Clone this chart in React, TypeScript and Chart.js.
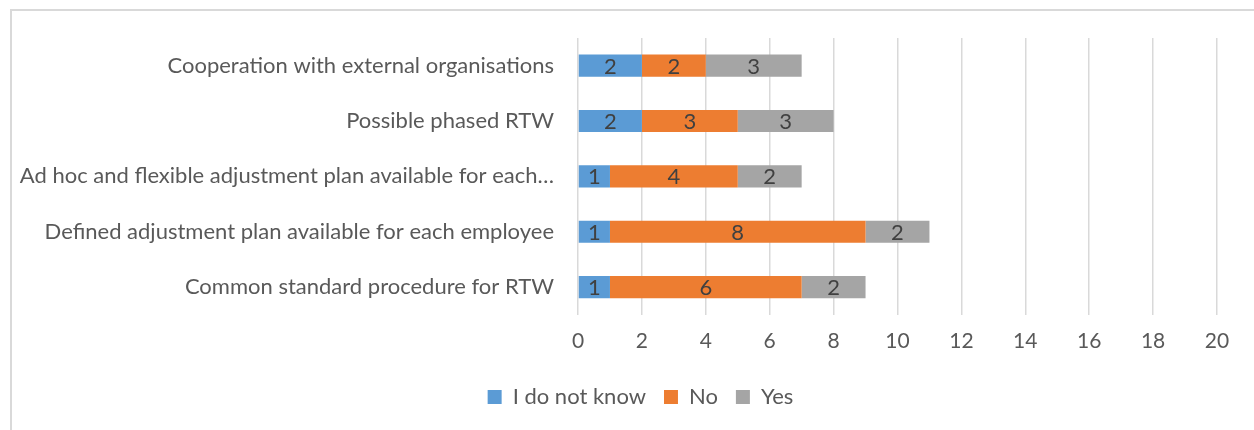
import React, { useEffect, useRef } from "react";
import { Chart, registerables } from "chart.js";

Chart.register(...registerables);

const categories = [
  "Cooperation with external organisations",
  "Possible phased RTW",
  "Ad hoc and flexible adjustment plan available for each…",
  "Defined adjustment plan available for each employee",
  "Common standard procedure for RTW",
];
const dontKnow = [2, 2, 1, 1, 1];
const no = [2, 3, 4, 8, 6];
const yes = [3, 3, 2, 2, 2];
const seriesNames = ["I do not know", "No", "Yes"];
const seriesColors = ["#5B9BD5", "#ED7D31", "#A5A5A5"];
const xMax = 20;
const xStep = 2;

const FONT = "Lato, 'Open Sans', sans-serif";

const valueLabels = {
  id: "valueLabels",
  afterDatasetsDraw(chart: any) {
    const ctx = chart.ctx;
    ctx.save();
    ctx.font = `22px ${FONT}`;
    ctx.fillStyle = "#404040";
    ctx.textAlign = "center";
    ctx.textBaseline = "middle";
    chart.data.datasets.forEach((ds: any, i: number) => {
      const meta = chart.getDatasetMeta(i);
      meta.data.forEach((bar: any, j: number) => {
        const v = ds.data[j];
        if (!v) return;
        const cx = (bar.x + bar.base) / 2;
        ctx.fillText(String(v), cx, bar.y + 1);
      });
    });
    ctx.restore();
  },
};

// shift legend so it is centred like the original (centre ≈ 640px)
const legendShift = {
  id: "legendShift",
  afterLayout(chart: any) {
    const lg = chart.legend;
    if (lg) {
      lg.left += 32;
      lg.right += 32;
    }
  },
};

export default function App() {
  const ref = useRef<HTMLCanvasElement>(null);
  useEffect(() => {
    const chart = new Chart(ref.current!, {
      type: "bar",
      data: {
        labels: categories,
        datasets: [dontKnow, no, yes].map((d, i) => ({
          label: seriesNames[i],
          data: d,
          backgroundColor: seriesColors[i],
          borderWidth: 0,
          barPercentage: 0.8,
          categoryPercentage: 0.5,
        })),
      },
      options: {
        indexAxis: "y",
        responsive: false,
        animation: false,
        layout: { padding: { top: 38, right: 37, left: 0, bottom: 12 } },
        plugins: {
          tooltip: { enabled: false },
          legend: {
            position: "bottom",
            labels: {
              boxWidth: 14,
              boxHeight: 14,
              padding: 18,
              color: "#595959",
              font: { family: FONT, size: 22 },
            },
          },
        },
        scales: {
          x: {
            stacked: true,
            min: 0,
            max: xMax,
            ticks: {
              stepSize: xStep,
              color: "#595959",
              font: { family: FONT, size: 21 },
              padding: 14,
            },
            grid: { color: "#D9D9D9", lineWidth: 1.5, drawTicks: false },
            border: { display: false },
          },
          y: {
            stacked: true,
            ticks: {
              color: "#595959",
              font: { family: FONT, size: 22 },
              padding: 16,
            },
            grid: { display: false },
            border: { display: false },
            afterFit: (scale: any) => {
              scale.width = 578;
            },
          },
        },
      },
      plugins: [valueLabels, legendShift],
    });
    return () => chart.destroy();
  }, []);
  return (
    <div style={{ position: "fixed", left: 0, top: 0, width: 1254, height: 430, background: "#fff", overflow: "hidden" }}>
      <div style={{ position: "absolute", left: 10, top: 9, width: 1260, height: 440, border: "2px solid #D9D9D9", boxSizing: "border-box" }} />
      <canvas ref={ref} width={1254} height={430} style={{ position: "absolute", left: 0, top: 0 }} />
    </div>
  );
}
